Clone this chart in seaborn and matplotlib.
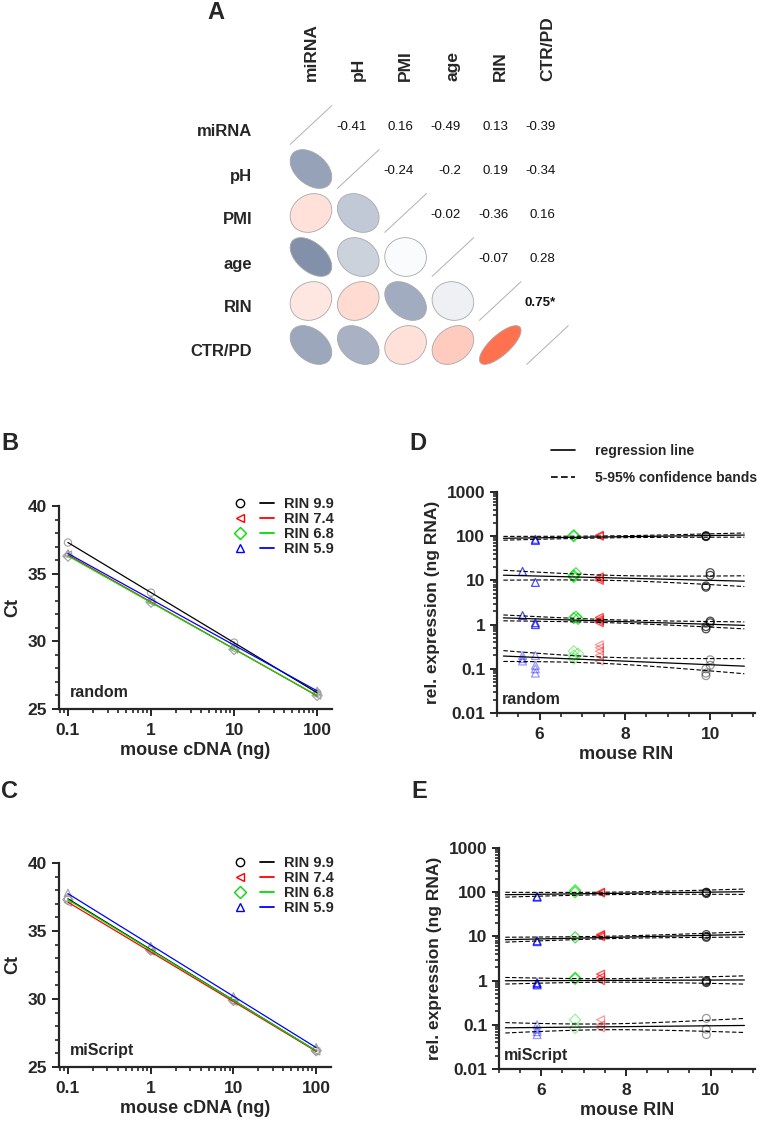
import numpy as np
import pandas as pd
import seaborn as sns
import matplotlib.pyplot as plt
from matplotlib.patches import Ellipse
from matplotlib.lines import Line2D
from matplotlib.legend_handler import HandlerTuple
from matplotlib.colors import LinearSegmentedColormap, Normalize
from matplotlib.ticker import LogLocator, NullFormatter, MultipleLocator, FuncFormatter

# ---------------- data ----------------
# A: correlation matrix (lower = ellipses, upper = values)
corr_vars = ['miRNA', 'pH', 'PMI', 'age', 'RIN', 'CTR/PD']
corr_vals = [[1.00, -0.41, 0.16, -0.49, 0.13, -0.39],
             [-0.41, 1.00, -0.24, -0.20, 0.19, -0.34],
             [0.16, -0.24, 1.00, -0.02, -0.36, 0.16],
             [-0.49, -0.20, -0.02, 1.00, -0.07, 0.28],
             [0.13, 0.19, -0.36, -0.07, 1.00, 0.75],
             [-0.39, -0.34, 0.16, 0.28, 0.75, 1.00]]
corr_signif = [(4, 5)]

# B/C: Ct vs mouse cDNA input
cdna_ng = [0.1, 1, 10, 100]
rin_names = ['RIN 9.9', 'RIN 7.4', 'RIN 6.8', 'RIN 5.9']
group_colors = ['#000000', '#ff0000', '#00dd00', '#0000ff']
group_markers = ['o', '<', 'D', '^']
ct_random = [[37.3, 33.6, 29.9, 26.2],
             [36.4, 32.9, 29.4, 26.0],
             [36.3, 32.9, 29.4, 26.0],
             [36.5, 33.1, 29.7, 26.35]]
ct_miscript = [[37.4, 33.6, 29.9, 26.2],
               [37.1, 33.5, 29.8, 26.15],
               [37.3, 33.6, 29.9, 26.2],
               [37.8, 33.9, 30.2, 26.45]]

# D/E: rel. expression vs mouse RIN, one list per input level (100, 10, 1, 0.1 ng)
level_alpha = [0.7, 0.7, 0.7, 0.4]
d_rin = [[5.9, 5.9, 6.8, 6.8, 7.4, 7.4, 9.9, 9.9, 9.9],
         [5.6, 5.9, 6.8, 6.85, 6.8, 7.4, 7.4, 7.4, 9.9, 9.9, 10.0, 10.0],
         [5.6, 5.9, 5.9, 6.8, 6.9, 6.85, 7.4, 7.4, 7.4, 7.4, 9.9, 9.9, 10.0, 10.0],
         [5.6, 5.6, 5.6, 5.9, 5.9, 5.9, 5.9, 6.8, 6.8, 6.8, 6.9, 7.4, 7.4, 7.4, 7.4, 7.4,
          9.9, 9.9, 9.9, 10.0, 10.0]]
d_expr = [[85, 80, 105, 100, 105, 100, 98, 100, 103],
          [16, 9, 13, 14.5, 12, 12, 11, 10, 7.5, 7, 15, 13],
          [1.6, 1.0, 1.1, 1.4, 1.35, 1.5, 1.45, 1.3, 1.2, 1.1, 0.8, 0.9, 1.2, 1.1],
          [0.2, 0.17, 0.15, 0.2, 0.12, 0.1, 0.08, 0.25, 0.2, 0.17, 0.22, 0.35, 0.3, 0.25, 0.2, 0.15,
           0.1, 0.08, 0.07, 0.16, 0.12]]
d_grp = [[3, 3, 2, 2, 1, 1, 0, 0, 0],
         [3, 3, 2, 2, 2, 1, 1, 1, 0, 0, 0, 0],
         [3, 3, 3, 2, 2, 2, 1, 1, 1, 1, 0, 0, 0, 0],
         [3, 3, 3, 3, 3, 3, 3, 2, 2, 2, 2, 1, 1, 1, 1, 1, 0, 0, 0, 0, 0]]

e_rin = [[5.9, 5.9, 6.8, 6.8, 7.4, 7.4, 9.9, 9.9, 9.9],
         [5.9, 5.9, 6.8, 7.4, 7.4, 7.4, 9.9, 9.9, 9.9],
         [5.9, 5.9, 5.9, 6.8, 6.8, 7.4, 7.4, 7.4, 9.9, 9.9, 9.9],
         [5.9, 5.9, 5.9, 5.9, 6.8, 6.8, 7.4, 7.4, 7.4, 9.9, 9.9, 9.9]]
e_expr = [[80, 77, 110, 100, 100, 96, 93, 100, 98],
          [8, 7.6, 9.5, 10.5, 11, 9.8, 10, 11, 9.5],
          [0.85, 0.8, 0.9, 1.15, 1.1, 1.4, 1.2, 1.0, 1.0, 0.95, 0.9],
          [0.1, 0.08, 0.07, 0.06, 0.13, 0.085, 0.13, 0.1, 0.085, 0.14, 0.08, 0.06]]
e_grp = [[3, 3, 2, 2, 1, 1, 0, 0, 0],
         [3, 3, 2, 1, 1, 1, 0, 0, 0],
         [3, 3, 3, 2, 2, 1, 1, 1, 0, 0, 0],
         [3, 3, 3, 3, 2, 2, 1, 1, 1, 0, 0, 0]]

T90 = 1.75  # approx. t quantile for the 5-95% bands

# ---------------- figure ----------------
sns.set_style('ticks')
plt.rcParams['font.family'] = ['Liberation Sans', 'DejaVu Sans']
plt.rcParams['font.weight'] = 'bold'
plt.rcParams['axes.labelweight'] = 'bold'

W, H = 762, 1121
fig = plt.figure(figsize=(W / 100, H / 100), dpi=100)


def fx(px):
    return px / W


def fy(py):
    return 1 - py / H


def box(l, t, r, b):
    return [l / W, 1 - b / H, (r - l) / W, (b - t) / H]


# ---- A
cmap = LinearSegmentedColormap.from_list('corr', ['#001c52', '#ffffff', '#ff4416'])
norm = Normalize(-1, 1)
axA = fig.add_axes(box(287.3, 103, 571.2, 367))
axA.set_xlim(-0.5, 5.5)
axA.set_ylim(-0.5, 5.5)
axA.axis('off')
R = 0.44
n = len(corr_vars)
for i in range(n):
    for j in range(n):
        r = corr_vals[i][j]
        yc = n - 1 - i
        if i == j:
            axA.plot([j - R, j + R], [yc - R, yc + R], color='#b0b0b0', lw=0.7)
        elif i > j:
            a = R * np.sqrt(1 + abs(r))
            b = R * np.sqrt(1 - abs(r))
            ang = 45 if r > 0 else -45
            axA.add_patch(Ellipse((j, yc), 2 * a, 2 * b, angle=ang, facecolor=cmap(norm(r)),
                                  edgecolor='#a8a8a8', lw=0.6))
        else:
            sig = (i, j) in corr_signif
            axA.text(j + 0.17, yc - 0.04, f'{r:g}' + ('*' if sig else ''), ha='right', va='center',
                     fontsize=9.5, fontweight='bold' if sig else 'normal', color='#111111')
for k, name in enumerate(corr_vars):
    fig.text(fx(252), fy(125 + 44 * k + 7), name, ha='right', va='center', fontsize=12)
    fig.text(fx(311 + 47.3 * k), fy(81), name, ha='center', va='bottom', rotation=90, fontsize=12.5)
fig.text(fx(207), fy(12.5), 'A', ha='left', va='center', fontsize=17)


# ---- B / C
def style_axes(ax):
    sns.despine(ax=ax)
    for sp in ('left', 'bottom'):
        ax.spines[sp].set_linewidth(1.6)
    ax.tick_params(which='major', length=5, width=1.4, labelsize=12.5, direction='out')
    ax.tick_params(axis='x', which='major', pad=5)
    ax.tick_params(which='minor', length=3, width=1.2, direction='out')
    for lab in ax.get_xticklabels() + ax.get_yticklabels():
        lab.set_fontweight('bold')


def ct_panel(ax, cts, tag):
    ax.set_xscale('log')
    for gi, ct in enumerate(cts):
        sns.scatterplot(x=cdna_ng, y=ct, marker=group_markers[gi], s=28, facecolor='none',
                        edgecolor='#a0a0a0', linewidth=0.8, ax=ax)
    for gi, ct in enumerate(cts):
        sns.regplot(x=np.array(cdna_ng), y=np.array(ct), logx=True, ci=None, scatter=False,
                    color=group_colors[gi], line_kws={'lw': 0.9}, ax=ax)
    ax.set_xlim(0.078, 151)
    ax.set_ylim(25, 40)
    ax.set_xticks(cdna_ng)
    ax.xaxis.set_major_formatter(FuncFormatter(lambda v, p: f'{v:g}'))
    ax.xaxis.set_minor_locator(LogLocator(base=10, subs=np.arange(2, 10)))
    ax.xaxis.set_minor_formatter(NullFormatter())
    ax.yaxis.set_major_locator(MultipleLocator(5))
    ax.yaxis.set_minor_locator(MultipleLocator(1))
    ax.set_xlabel('mouse cDNA (ng)', fontsize=13, labelpad=3)
    ax.set_ylabel('Ct', fontsize=13, labelpad=5)
    style_axes(ax)
    ax.text(0.04, 0.08, tag, transform=ax.transAxes, fontsize=11.5, ha='left', va='center')
    handles = [(Line2D([], [], marker=m, ls='none', mfc='none', mec=c, ms=6, mew=1.0),
                Line2D([], [], color=c, lw=1.3)) for m, c in zip(group_markers, group_colors)]
    return handles


axB = fig.add_axes(box(59, 506, 332, 709))
hB = ct_panel(axB, ct_random, 'random')
axC = fig.add_axes(box(59, 863, 331, 1067))
hC = ct_panel(axC, ct_miscript, 'miScript')
for ax, hs, top in ((axB, hB, 497), (axC, hC, 856)):
    ax.legend(hs, rin_names, handler_map={tuple: HandlerTuple(ndivide=None, pad=0.9)},
              handlelength=2.8, handletextpad=0.7, labelspacing=0.08, frameon=False,
              loc='upper left', bbox_to_anchor=(fx(233), fy(top)), bbox_transform=fig.transFigure,
              borderpad=0, borderaxespad=0, prop={'weight': 'bold', 'size': 10.5})
fig.text(fx(1), fy(443), 'B', ha='left', va='center', fontsize=17)
fig.text(fx(1), fy(792), 'C', ha='left', va='center', fontsize=17)


# ---- D / E
def expr_panel(ax, xs, ys, gs, tag):
    ax.set_yscale('log')
    grid = np.linspace(5.15, 10.8, 60)
    for lx, ly, lg, alpha in zip(xs, ys, gs, level_alpha):
        df = pd.DataFrame({'rin': lx, 'expr': ly, 'grp': lg})
        for gi in range(4):
            sub = df[df['grp'] == gi]
            sns.scatterplot(data=sub, x='rin', y='expr', marker=group_markers[gi], s=32,
                            facecolor='none', edgecolor=group_colors[gi], linewidth=0.9,
                            alpha=alpha, ax=ax)
        xv = np.asarray(lx, float)
        lv = np.log10(ly)
        b, a = np.polyfit(xv, lv, 1)
        fit = a + b * grid
        resid = lv - (a + b * xv)
        s = np.sqrt(np.sum(resid ** 2) / (len(xv) - 2))
        se = s * np.sqrt(1 / len(xv) + (grid - xv.mean()) ** 2 / np.sum((xv - xv.mean()) ** 2))
        sns.lineplot(x=grid, y=10 ** fit, color='k', lw=0.9, ax=ax)
        for sign in (-1, 1):
            sns.lineplot(x=grid, y=10 ** (fit + sign * T90 * se), color='k', lw=0.8,
                         linestyle=(0, (4, 2)), ax=ax)
    ax.set_xlim(5, 11.05)
    ax.set_ylim(0.01, 1000)
    ax.set_yticks([0.01, 0.1, 1, 10, 100, 1000])
    ax.yaxis.set_major_formatter(FuncFormatter(lambda v, p: f'{v:g}'))
    ax.yaxis.set_minor_locator(LogLocator(base=10, subs=np.arange(2, 10)))
    ax.yaxis.set_minor_formatter(NullFormatter())
    ax.set_xticks([6, 8, 10])
    ax.xaxis.set_minor_locator(MultipleLocator(0.5))
    ax.set_xlabel('mouse RIN', fontsize=13, labelpad=3)
    ax.set_ylabel('rel. expression (ng RNA)', fontsize=12.5, labelpad=5)
    style_axes(ax)
    ax.text(0.02, 0.06, tag, transform=ax.transAxes, fontsize=11.5, ha='left', va='center')


axD = fig.add_axes(box(497, 492, 755, 713))
expr_panel(axD, d_rin, d_expr, d_grp, 'random')
axE = fig.add_axes(box(499, 848, 755, 1069))
expr_panel(axE, e_rin, e_expr, e_grp, 'miScript')
axD.legend([Line2D([], [], color='k', lw=1.2), Line2D([], [], color='k', lw=1.2, ls=(0, (4, 2)))],
           ['regression line', '5-95% confidence bands'], handlelength=1.75, handletextpad=1.4,
           labelspacing=0.95, frameon=False, loc='upper left', bbox_to_anchor=(fx(551), fy(444)),
           bbox_transform=fig.transFigure, borderpad=0, borderaxespad=0,
           prop={'weight': 'bold', 'size': 10})
fig.text(fx(409), fy(443), 'D', ha='left', va='center', fontsize=17)
fig.text(fx(411), fy(792), 'E', ha='left', va='center', fontsize=17)

fig.savefig('out.png', dpi=100)
